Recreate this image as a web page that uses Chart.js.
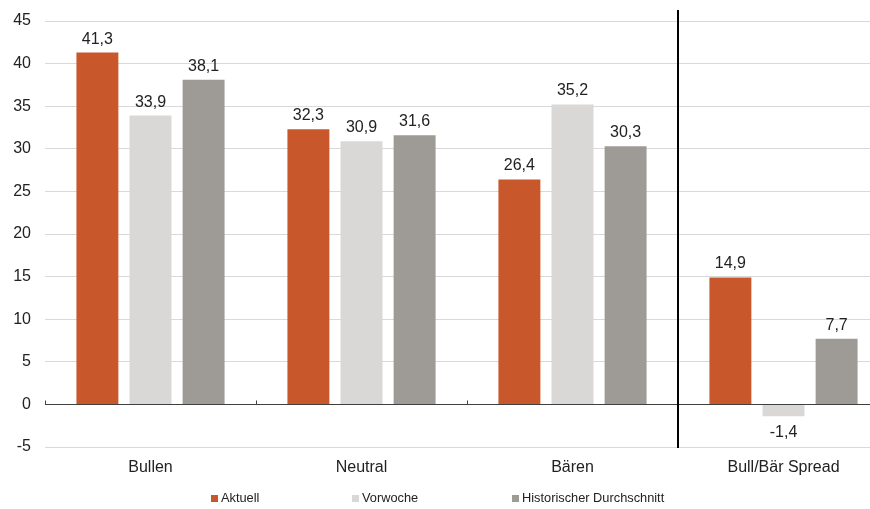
<!DOCTYPE html>
<html>
<head>
<meta charset="utf-8">
<script src="https://cdn.jsdelivr.net/npm/chart.js@4/dist/chart.umd.min.js"></script>
<style>
  html, body { margin: 0; padding: 0; background: #fff; overflow: hidden; }
  #wrap { position: relative; width: 890px; height: 509px; }
  #legend { position: absolute; top: 490px; left: 0; width: 870px; height: 16px;
            font-family: "Liberation Sans", Arial, sans-serif; font-size: 12.8px; color: #222; }
  .item { position: absolute; top: 0; white-space: nowrap; line-height: 16px; }
  .sw { display: inline-block; width: 7px; height: 7px; margin-right: 3px; vertical-align: 0px; }
</style>
</head>
<body>
<div id="wrap">
  <canvas id="c" width="890" height="509"></canvas>
  <div id="legend"></div>
</div>
<script>
// Sentiment survey: current week, previous week, long-run average
const categories = ["Bullen", "Neutral", "Bären", "Bull/Bär Spread"];
const aktuell    = [41.3, 32.3, 26.4, 14.9];
const vorwoche   = [33.9, 30.9, 35.2, -1.4];
const historisch = [38.1, 31.6, 30.3, 7.7];
const seriesNames = ["Aktuell", "Vorwoche", "Historischer Durchschnitt"];
const yTicks = [-5, 0, 5, 10, 15, 20, 25, 30, 35, 40, 45];

const colors = ["#C8582C", "#D9D8D6", "#9E9A96"];
const FONT = "'Liberation Sans', Arial, sans-serif";

// HTML legend laid out in wide slots
const legendX = [211, 352, 512];
const legendEl = document.getElementById("legend");
seriesNames.forEach((name, i) => {
  const d = document.createElement("div");
  d.className = "item";
  d.style.left = legendX[i] + "px";
  d.innerHTML = '<span class="sw" style="background:' + colors[i] + '"></span>' + name;
  legendEl.appendChild(d);
});

const fmt = v => v.toFixed(1).replace(".", ",");

const overlay = {
  id: "overlay",
  afterDatasetsDraw(chart) {
    const ctx = chart.ctx;
    const x = chart.scales.x, y = chart.scales.y;
    const area = chart.chartArea;
    const y0 = Math.round(y.getPixelForValue(0)) + 0.5;
    ctx.save();
    // zero axis line with small upward tick marks at category boundaries
    ctx.strokeStyle = "#404040";
    ctx.lineWidth = 1;
    ctx.beginPath();
    ctx.moveTo(area.left, y0);
    ctx.lineTo(area.right, y0);
    const step = x.getPixelForValue(1) - x.getPixelForValue(0);
    for (let i = 0; i <= categories.length; i++) {
      const px = Math.round(x.getPixelForValue(0) - step / 2 + i * step) + 0.5;
      ctx.moveTo(px, y0);
      ctx.lineTo(px, y0 - 4);
    }
    ctx.stroke();
    // divider before the spread group
    const xd = (x.getPixelForValue(2) + x.getPixelForValue(3)) / 2;
    ctx.strokeStyle = "#000";
    ctx.lineWidth = 2;
    ctx.beginPath();
    ctx.moveTo(xd, 10);
    ctx.lineTo(xd, area.bottom + 1);
    ctx.stroke();
    // value labels
    ctx.fillStyle = "#222";
    ctx.font = "16px " + FONT;
    ctx.textAlign = "center";
    ctx.textBaseline = "alphabetic";
    chart.data.datasets.forEach((ds, di) => {
      chart.getDatasetMeta(di).data.forEach((bar, i) => {
        const v = ds.data[i];
        if (v >= 0) {
          ctx.fillText(fmt(v), bar.x, bar.y - 9);
        } else {
          ctx.fillText(fmt(v), bar.x, bar.y + 21);
        }
      });
    });
    ctx.restore();
  }
};

new Chart(document.getElementById("c"), {
  type: "bar",
  data: {
    labels: categories,
    datasets: [
      { label: seriesNames[0], data: aktuell,    backgroundColor: colors[0] },
      { label: seriesNames[1], data: vorwoche,   backgroundColor: colors[1] },
      { label: seriesNames[2], data: historisch, backgroundColor: colors[2] }
    ]
  },
  options: {
    responsive: false,
    animation: false,
    devicePixelRatio: 1,
    categoryPercentage: 0.755,
    barPercentage: 0.79,
    layout: { padding: { top: 21, right: 1, left: 0, bottom: 0 } },
    plugins: { legend: { display: false }, tooltip: { enabled: false } },
    scales: {
      x: {
        grid: { display: false, drawTicks: false },
        border: { display: false },
        ticks: { color: "#222", font: { family: FONT, size: 16 }, padding: 11, maxRotation: 0 },
        afterFit(s) { s.height = 62; s.paddingLeft = 0; s.paddingRight = 0; }
      },
      y: {
        min: -5, max: 45,
        afterBuildTicks(s) { s.ticks = yTicks.map(v => ({ value: v })); },
        grid: {
          drawTicks: false,
          color: ctx => (ctx.tick && ctx.tick.value === 0) ? "rgba(0,0,0,0)" : "#D9D9D9",
          lineWidth: 1
        },
        border: { display: false },
        ticks: { color: "#222", font: { family: FONT, size: 16 }, padding: 14 },
        afterFit(s) { s.width = 45; s.paddingTop = 0; s.paddingBottom = 0; }
      }
    }
  },
  plugins: [overlay]
});
</script>
</body>
</html>
